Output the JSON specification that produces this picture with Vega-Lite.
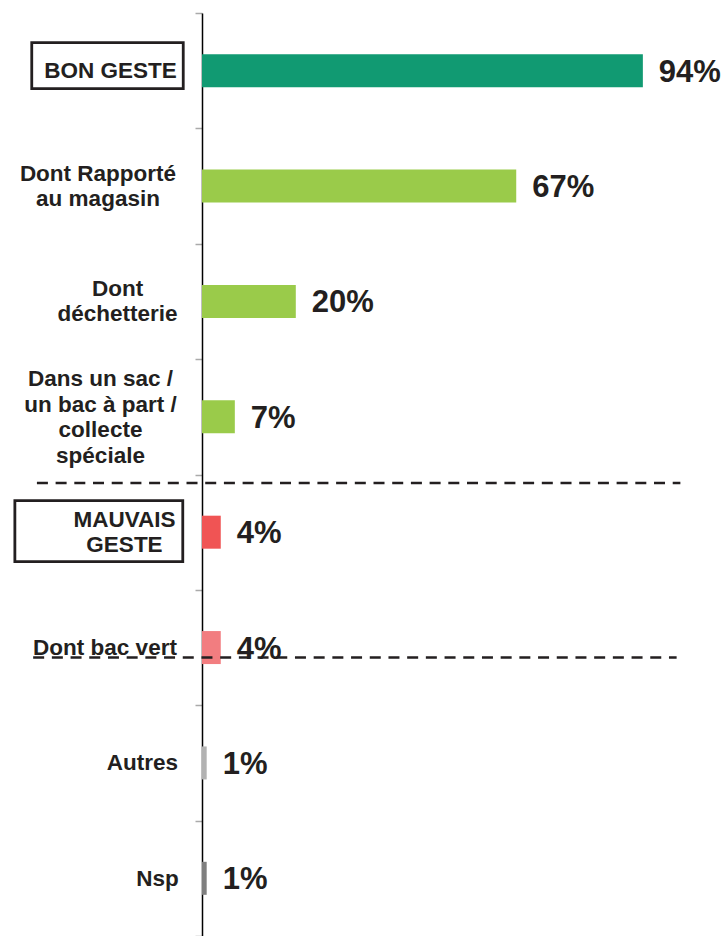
{
  "$schema": "https://vega.github.io/schema/vega-lite/v6.json",
  "width": 522,
  "height": 923,
  "autosize": {"type": "none"},
  "padding": {"left": 202, "top": 13, "right": 0, "bottom": 0},
  "background": "white",
  "config": {"view": {"stroke": null}, "font": "Liberation Sans"},
  "datasets": {
    "barres": [
      {"categorie": "BON GESTE", "valeur": 94, "etiquette": "94%", "groupe": "bon"},
      {"categorie": "Dont Rapporté\nau magasin", "valeur": 67, "etiquette": "67%", "groupe": "bon_detail"},
      {"categorie": "Dont\ndéchetterie", "valeur": 20, "etiquette": "20%", "groupe": "bon_detail"},
      {"categorie": "Dans un sac /\nun bac à part /\ncollecte\nspéciale", "valeur": 7, "etiquette": "7%", "groupe": "bon_detail"},
      {"categorie": "MAUVAIS\nGESTE", "valeur": 4, "etiquette": "4%", "groupe": "mauvais"},
      {"categorie": "Dont bac vert", "valeur": 4, "etiquette": "4%", "groupe": "mauvais_detail"},
      {"categorie": "Autres", "valeur": 1, "etiquette": "1%", "groupe": "autres"},
      {"categorie": "Nsp", "valeur": 1, "etiquette": "1%", "groupe": "nsp"}
    ],
    "cadre_bon": [{"categorie": "BON GESTE", "debut": -36.3, "fin": -4.0}],
    "cadre_mauvais": [{"categorie": "MAUVAIS\nGESTE", "debut": -39.9, "fin": -4.1}],
    "separateur_1": [{"categorie": "MAUVAIS\nGESTE", "debut": -35.2, "fin": 102.0}],
    "separateur_2": [{"categorie": "Dont bac vert", "debut": -36.0, "fin": 101.2}]
  },
  "layer": [
    {
      "data": {"name": "barres"},
      "mark": {"type": "bar", "size": 33},
      "encoding": {
        "y": {
          "field": "categorie",
          "type": "nominal",
          "sort": null,
          "scale": {
            "domain": ["BON GESTE", "Dont Rapporté\nau magasin", "Dont\ndéchetterie", "Dans un sac /\nun bac à part /\ncollecte\nspéciale", "MAUVAIS\nGESTE", "Dont bac vert", "Autres", "Nsp"],
            "paddingInner": 0,
            "paddingOuter": 0
          },
          "axis": {
            "title": null,
            "domainColor": "#000000",
            "domainWidth": 1.5,
            "tickColor": "#aaaaaa",
            "tickSize": 7,
            "tickWidth": 1.5,
            "tickBand": "extent",
            "labelFont": "Liberation Sans",
            "labelFontSize": 22.5,
            "labelFontWeight": "bold",
            "labelColor": "#231f20",
            "labelAlign": "center",
            "labelBaseline": "middle",
            "labelLineHeight": 25.5,
            "labelLimit": 300,
            "labelPadding": {
              "condition": [
                {"test": "datum.value === 'Dont Rapporté\\nau magasin'", "value": 97.5},
                {"test": "datum.value === 'Dont\\ndéchetterie'", "value": 78},
                {"test": "datum.value === 'Dans un sac /\\nun bac à part /\\ncollecte\\nspéciale'", "value": 95},
                {"test": "datum.value === 'MAUVAIS\\nGESTE'", "value": 71},
                {"test": "datum.value === 'Dont bac vert'", "value": 90.5},
                {"test": "datum.value === 'Autres'", "value": 53},
                {"test": "datum.value === 'Nsp'", "value": 38}
              ],
              "value": 85
            },
            "labelOffset": {
              "condition": [
                {"test": "datum.value === 'Dans un sac /\\nun bac à part /\\ncollecte\\nspéciale'", "value": -38},
                {"test": "datum.value === 'Dont Rapporté\\nau magasin' || datum.value === 'Dont\\ndéchetterie' || datum.value === 'MAUVAIS\\nGESTE'", "value": -13}
              ],
              "value": 0
            },
            "labelExpr": "isString(datum.label) ? split(datum.label, '\\n') : ''"
          }
        },
        "x": {
          "field": "valeur",
          "type": "quantitative",
          "scale": {"domain": [0, 111.3], "nice": false, "zero": true},
          "axis": null
        },
        "color": {
          "field": "groupe",
          "type": "nominal",
          "scale": {
            "domain": ["bon", "bon_detail", "mauvais", "mauvais_detail", "autres", "nsp"],
            "range": ["#119a72", "#9acb4a", "#f05454", "#f27d80", "#b2b2b2", "#7f7f7f"]
          },
          "legend": null
        }
      }
    },
    {
      "data": {"name": "barres"},
      "mark": {"type": "text", "align": "left", "baseline": "middle", "dx": 16, "dy": 2, "font": "Liberation Sans", "fontSize": 31, "fontWeight": "bold", "color": "#231f20"},
      "encoding": {
        "y": {"field": "categorie", "type": "nominal", "sort": null},
        "x": {"field": "valeur", "type": "quantitative"},
        "text": {"field": "etiquette", "type": "nominal"}
      }
    },
    {
      "data": {"name": "cadre_bon"},
      "mark": {"type": "bar", "size": 46, "yOffset": -5, "fill": "transparent", "stroke": "#231f20", "strokeWidth": 2.8},
      "encoding": {
        "y": {"field": "categorie", "type": "nominal", "sort": null},
        "x": {"field": "debut", "type": "quantitative"},
        "x2": {"field": "fin"}
      }
    },
    {
      "data": {"name": "cadre_mauvais"},
      "mark": {"type": "bar", "size": 61, "yOffset": -1, "fill": "transparent", "stroke": "#231f20", "strokeWidth": 2.8},
      "encoding": {
        "y": {"field": "categorie", "type": "nominal", "sort": null},
        "x": {"field": "debut", "type": "quantitative"},
        "x2": {"field": "fin"}
      }
    },
    {
      "data": {"name": "separateur_1"},
      "mark": {"type": "rule", "yOffset": 8.5, "stroke": "#231f20", "strokeWidth": 2.5, "strokeDash": [11, 7.7]},
      "encoding": {
        "y": {"field": "categorie", "type": "nominal", "sort": null, "bandPosition": 0},
        "x": {"field": "debut", "type": "quantitative"},
        "x2": {"field": "fin"}
      }
    },
    {
      "data": {"name": "separateur_2"},
      "mark": {"type": "rule", "yOffset": 10, "stroke": "#231f20", "strokeWidth": 2.5, "strokeDash": [11, 7.7]},
      "encoding": {
        "y": {"field": "categorie", "type": "nominal", "sort": null, "bandPosition": 0.5},
        "x": {"field": "debut", "type": "quantitative"},
        "x2": {"field": "fin"}
      }
    }
  ]
}
